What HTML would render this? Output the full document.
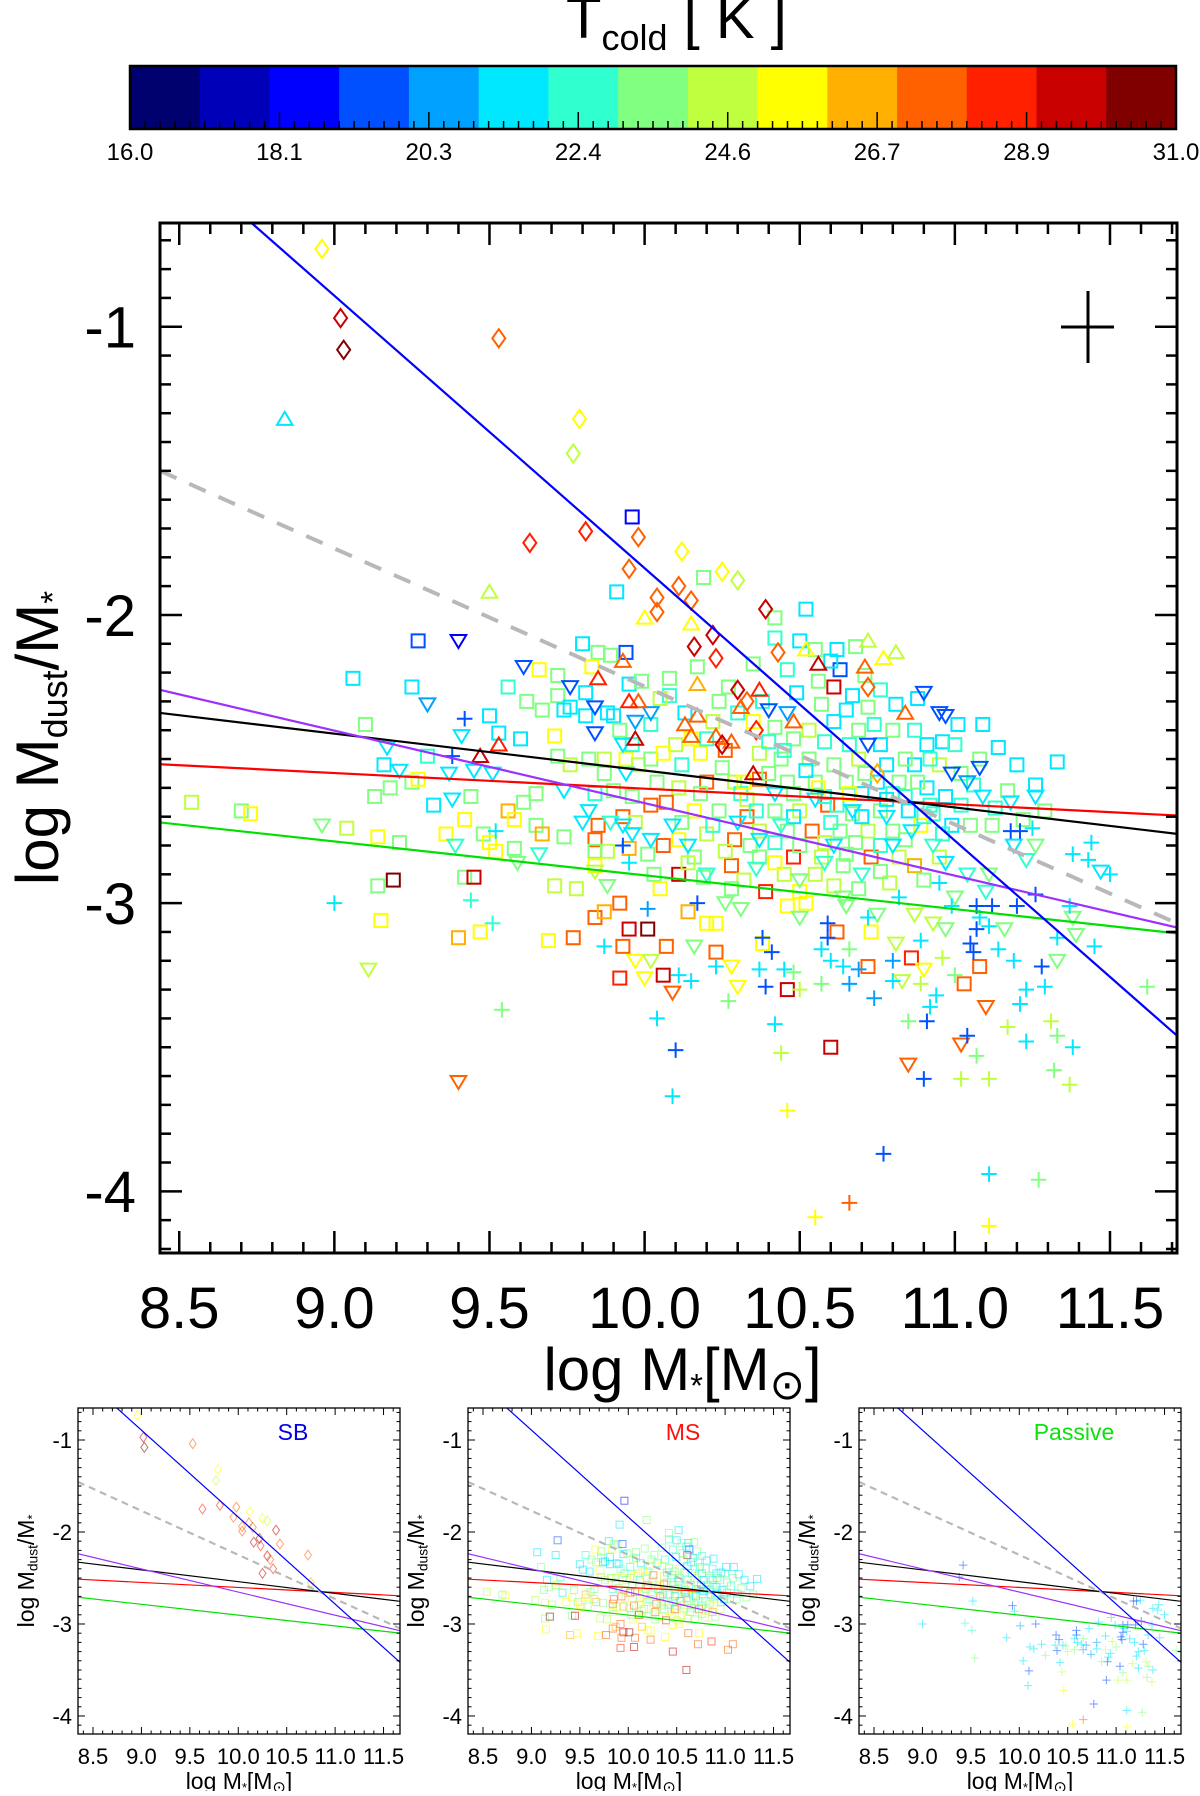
<!DOCTYPE html>
<html><head><meta charset="utf-8"><style>
html,body{margin:0;padding:0;background:#fff;}
svg text{font-family:"Liberation Sans","DejaVu Sans",sans-serif;fill:#000;}
</style></head><body>
<svg id="fig" xmlns="http://www.w3.org/2000/svg" width="1200" height="1791" viewBox="0 0 1200 1791">
<g id="cbar"></g>
<g id="main"></g>
<g id="p0"></g>
<g id="p1"></g>
<g id="p2"></g>
</svg>
<script>
// ---------- data ----------
const cmapColors = ["#00006e","#0000b8","#0000ff","#0050ff","#00a0ff","#00e8ff","#30ffd0","#80ff80","#c0ff40","#ffff00","#ffb000","#ff6000","#ff2000","#c80000","#800000"];
const cbarTicks = ["16.0","18.1","20.3","22.4","24.6","26.7","28.9","31.0"];
const xTicks = [8.5,9.0,9.5,10.0,10.5,11.0,11.5];
const yTicks = [-1,-2,-3,-4];
// fit lines: [slope, intercept at x=8.438]
const lineBlue = [-0.9454, -0.361];
const lineRed = [-0.0543, -2.518];
const lineBlack = [-0.128, -2.34];
const linePurple = [-0.2516, -2.26];
const lineGreen = [-0.1174, -2.72];
const lineGray = [-0.479, -1.50];
// markers [logM*, logMdust/M*, Tcold]
const sbDiamonds = [[8.96,-0.73,25.5],[9.02,-0.97,29.5],[9.03,-1.08,30.5],[9.53,-1.04,27.5],[9.79,-1.32,25],[9.77,-1.44,24],[9.63,-1.75,28],[9.81,-1.71,28],[9.98,-1.73,27.5],[10.12,-1.78,25.5],[9.95,-1.84,27],[10.04,-1.94,27.5],[10.04,-1.99,27],[10.25,-1.85,25.5],[10.30,-1.88,24.5],[10.11,-1.90,27],[10.15,-1.95,27],[10.39,-1.98,29.5],[10.22,-2.07,29.5],[10.16,-2.11,29],[10.23,-2.15,28],[10.43,-2.13,27],[10.30,-2.26,29],[10.33,-2.30,27],[10.36,-2.40,28],[10.25,-2.45,29],[10.72,-2.25,27],[10.75,-2.55,26.5]];
const msSquares = [[9.96,-1.66,18.5],[9.91,-1.92,21],[9.06,-2.22,21.5],[9.27,-2.09,19],[9.25,-2.25,21.5],[9.10,-2.38,23.5],[9.16,-2.52,21.5],[9.13,-2.63,23.5],[9.18,-2.60,23],[9.25,-2.58,23.5],[9.27,-2.57,25.5],[8.54,-2.65,24],[8.70,-2.68,23.5],[8.73,-2.69,25.5],[9.04,-2.74,24],[9.14,-2.77,25.5],[9.21,-2.79,23.5],[9.14,-2.94,23],[9.19,-2.92,30],[9.15,-3.06,25.5],[9.30,-2.49,22],[9.32,-2.66,21.5],[9.36,-2.76,25.5],[9.42,-2.71,25.5],[9.44,-2.63,23.5],[9.48,-2.76,23.5],[9.50,-2.79,25.5],[9.52,-2.82,25.5],[9.42,-2.91,23.5],[9.45,-2.91,29.5],[9.40,-3.12,26.5],[9.47,-3.10,25.5],[9.56,-2.25,22],[9.66,-2.19,25.5],[9.62,-2.30,23],[9.67,-2.33,23],[9.50,-2.35,21.5],[9.53,-2.41,21.5],[9.60,-2.43,21],[9.71,-2.42,25.5],[9.56,-2.68,26.5],[9.58,-2.71,25.5],[9.61,-2.65,23.5],[9.65,-2.62,23.5],[9.65,-2.73,23.5],[9.67,-2.76,26.5],[9.74,-2.77,23],[9.58,-2.81,23],[9.71,-2.94,24],[9.78,-2.95,24],[9.69,-3.13,25.5],[9.77,-3.12,27.5],[9.84,-3.05,27.5],[9.87,-3.03,26.5],[9.92,-3.00,27.5],[9.95,-3.09,29.5],[10.01,-3.09,31],[9.93,-3.15,27.5],[9.92,-3.26,28.5],[9.80,-2.10,21.5],[9.85,-2.13,23],[9.89,-2.14,23.5],[9.94,-2.13,19.5],[9.83,-2.18,25],[9.72,-2.21,23.5],[9.72,-2.28,23.5],[9.81,-2.27,21.5],[9.74,-2.33,21.5],[9.76,-2.32,21.5],[9.81,-2.35,21],[9.88,-2.34,21],[9.90,-2.35,21.5],[9.95,-2.24,21],[9.99,-2.23,23],[9.92,-2.40,23.5],[9.72,-2.49,23.5],[9.76,-2.52,24],[9.82,-2.50,23.5],[9.87,-2.50,24],[9.94,-2.50,25.5],[9.98,-2.52,24],[10.02,-2.50,23.5],[9.87,-2.55,23],[9.84,-2.62,22],[9.90,-2.61,23],[9.96,-2.63,23.5],[10.02,-2.66,27],[9.85,-2.73,27],[9.93,-2.70,27],[9.97,-2.72,24],[9.84,-2.78,27],[9.88,-2.82,24],[9.84,-2.82,23],[9.95,-2.81,26.5],[10.01,-2.83,23.5],[10.03,-2.90,23.5],[9.84,-2.87,25.5],[10.19,-1.87,23.5],[10.42,-2.01,23.5],[10.52,-1.98,21.5],[10.42,-2.08,22],[10.50,-2.09,21.5],[10.62,-2.12,21.5],[10.68,-2.11,23.5],[10.63,-2.19,19.5],[10.55,-2.12,23],[10.71,-2.21,23.5],[10.76,-2.26,22],[10.81,-2.31,21.5],[10.88,-2.29,21],[11.01,-2.38,21.5],[11.09,-2.38,21],[10.96,-2.44,21.5],[10.91,-2.45,21],[11.08,-2.50,23],[11.20,-2.52,21],[11.33,-2.51,21],[11.17,-2.61,23],[11.26,-2.59,21.5],[11.29,-2.68,23.5],[11.12,-2.73,23],[11.05,-2.73,23.5],[10.08,-2.22,23.5],[10.17,-2.18,23],[10.08,-2.28,22],[10.27,-2.25,23.5],[10.61,-2.25,29.5],[10.56,-2.23,23],[10.67,-2.28,21.5],[10.49,-2.27,21.5],[10.57,-2.31,23.5],[10.65,-2.33,21.5],[10.72,-2.32,23],[10.80,-2.40,23],[10.76,-2.45,21.5],[10.69,-2.40,23.5],[10.61,-2.37,21],[10.53,-2.40,24],[10.48,-2.43,23.5],[10.42,-2.39,23],[10.35,-2.37,25],[10.22,-2.37,24],[10.15,-2.43,25.5],[10.10,-2.45,24.5],[10.06,-2.48,25],[10.18,-2.48,25.5],[10.26,-2.47,27],[10.37,-2.48,24.5],[10.44,-2.50,23.5],[10.53,-2.50,23.5],[10.61,-2.52,23],[10.69,-2.50,24],[10.78,-2.52,21.5],[10.87,-2.52,21.5],[10.95,-2.52,24.5],[11.02,-2.55,23],[10.91,-2.60,21.5],[10.82,-2.58,23],[10.75,-2.58,21.5],[10.65,-2.58,23.5],[10.55,-2.58,23.5],[10.46,-2.58,23],[10.37,-2.57,27],[10.29,-2.58,24],[10.20,-2.58,27],[10.11,-2.60,24],[10.07,-2.65,27.5],[10.16,-2.68,25.5],[10.24,-2.68,23.5],[10.33,-2.70,27],[10.42,-2.68,23.5],[10.50,-2.68,24],[10.59,-2.66,27.5],[10.67,-2.69,23],[10.76,-2.68,23.5],[10.85,-2.68,21.5],[10.93,-2.69,22],[10.99,-2.73,21.5],[10.89,-2.73,25],[10.80,-2.75,23.5],[10.72,-2.75,24],[10.63,-2.75,23.5],[10.54,-2.75,27],[10.46,-2.75,23],[10.37,-2.75,24.5],[10.29,-2.78,27],[10.20,-2.76,24],[10.11,-2.78,25.5],[10.06,-2.80,27],[10.16,-2.84,23.5],[10.28,-2.87,27],[10.37,-2.84,23],[10.48,-2.84,28.5],[10.57,-2.84,24],[10.65,-2.83,23.5],[10.73,-2.84,27.5],[10.82,-2.84,24],[10.87,-2.87,26.5],[10.95,-2.84,24.5],[10.11,-2.90,29],[10.19,-2.91,23.5],[10.32,-2.92,24],[10.39,-2.96,28.5],[10.50,-2.96,25.5],[10.61,-2.94,24],[10.69,-2.95,23.5],[10.79,-2.93,24.5],[10.14,-3.03,26.5],[10.20,-3.07,25.5],[10.23,-3.07,25.5],[10.46,-3.01,25.5],[10.52,-3.00,25],[10.62,-3.10,27],[10.73,-3.10,25.5],[10.07,-3.15,27],[10.23,-3.17,27],[10.06,-3.25,29],[10.46,-3.30,29.5],[10.60,-3.50,29],[10.72,-3.22,27.5],[10.86,-3.19,28],[11.03,-3.28,27],[11.08,-3.22,27.5],[10.38,-3.14,25.5],[10.45,-2.47,22],[10.58,-2.63,22.5],[10.70,-2.62,21.5],[10.84,-2.63,22],[10.97,-2.63,21],[10.31,-2.62,22.5],[10.52,-2.54,21.5],[10.66,-2.45,22.5],[10.87,-2.40,22],
[10.40,-2.55,23],[10.48,-2.62,23.5],[10.62,-2.66,22],[10.71,-2.55,23.5],[10.80,-2.62,22.5],[10.88,-2.58,23],[10.92,-2.66,22],[10.96,-2.76,22.5],[11.02,-2.66,22],[10.84,-2.78,23.5],[10.76,-2.80,22.5],[10.68,-2.79,23],[10.58,-2.79,24],[10.50,-2.80,23.5],[10.42,-2.79,22.5],[10.34,-2.80,23.5],[10.26,-2.82,24],[10.33,-2.64,24],[10.25,-2.53,23],[10.40,-2.44,22.5],[10.58,-2.44,22],[10.74,-2.38,22.5],[10.92,-2.50,22.5],[11.06,-2.59,22],[11.13,-2.67,22.5],[11.22,-2.71,23],[10.64,-2.87,23.5],[10.55,-2.90,24.5],[10.76,-2.89,23],[10.90,-2.92,23.5],[10.45,-2.90,24],[10.28,-2.95,23],[10.12,-2.72,23.5],[10.18,-2.62,23],[10.04,-2.58,23],[10.12,-2.52,22.5],[10.20,-2.43,22],[10.30,-2.34,22.5],[10.38,-2.30,22],[10.46,-2.19,22],[10.35,-2.17,23],[10.24,-2.30,23],[10.13,-2.34,21.5],[10.02,-2.38,22],[10.05,-2.29,24],[9.96,-2.45,22],[10.60,-2.16,21.5],[10.84,-2.50,23],[11.00,-2.45,22],[11.14,-2.46,21.5],[10.70,-2.70,21.5],[10.60,-2.72,22],[10.78,-2.64,21],[10.90,-2.70,22.5],[10.48,-2.70,21.5],[10.36,-2.68,22],[10.22,-2.73,22.5],[10.14,-2.86,24.5],[10.05,-2.95,25],[10.42,-2.86,25.5],[10.56,-2.60,25],[10.66,-2.62,25.5],[10.32,-2.58,25.5]];
const triDown = [[9.40,-2.09,18.5],[9.30,-2.31,20],[9.61,-2.18,19],[9.76,-2.25,19.5],[9.84,-2.32,19],[9.84,-2.41,19.5],[9.97,-2.37,20],[10.02,-2.34,20],[9.17,-2.46,21.5],[9.21,-2.54,21.5],[9.37,-2.55,21.5],[9.45,-2.54,21.5],[9.51,-2.55,21.5],[9.41,-2.42,21.5],[9.38,-2.64,21.5],[9.39,-2.80,22],[8.96,-2.73,23.5],[9.11,-3.23,24],[9.40,-3.62,27.5],[9.59,-2.86,23],[9.66,-2.83,22.5],[9.74,-2.61,21.5],[9.80,-2.72,21.5],[9.82,-2.68,21],[9.89,-2.72,22],[9.93,-2.73,21.5],[9.96,-2.76,21],[9.94,-2.55,21.5],[9.88,-2.94,23.5],[9.84,-2.89,24],[9.97,-3.20,25.5],[10.02,-3.20,24.5],[10.00,-3.26,25.5],[9.93,-2.45,21.5],[10.02,-2.78,21],[10.90,-2.27,19.5],[10.95,-2.34,19.5],[10.97,-2.35,19],[11.08,-2.53,19],[11.04,-2.58,20],[10.99,-2.55,19.5],[11.09,-2.63,21.5],[11.18,-2.65,21.5],[11.26,-2.63,21.5],[11.47,-2.89,21],[11.38,-3.05,23.5],[11.39,-3.11,23.5],[11.33,-3.20,23],[11.16,-3.09,23.5],[11.26,-2.80,23],[11.23,-2.85,22],[11.19,-2.80,21.5],[10.46,-2.34,20],[10.40,-2.33,19.5],[10.72,-2.45,19.5],[10.67,-2.68,21],[10.09,-2.73,21.5],[10.14,-2.80,21.5],[10.37,-2.78,21.5],[10.61,-2.80,21.5],[10.80,-2.80,21.5],[10.97,-2.86,21.5],[11.04,-2.90,22],[11.11,-2.90,23],[10.26,-3.00,23.5],[10.31,-3.02,23],[10.50,-3.05,23],[10.65,-3.01,23.5],[10.75,-3.04,23],[10.87,-3.04,24],[10.93,-3.07,24.5],[10.97,-3.09,23.5],[10.81,-3.14,24],[10.16,-3.15,23.5],[10.28,-3.22,25.5],[10.30,-3.29,25.5],[10.09,-3.31,27],[10.90,-3.23,25.5],[10.83,-3.27,24.5],[11.10,-3.36,27],[11.02,-3.49,27],[10.85,-3.56,27],[10.55,-2.64,21.5],[10.78,-2.70,21.5],[10.44,-2.73,22],
[10.58,-2.86,22],[10.70,-2.90,22.5],[10.86,-2.75,21.5],[10.93,-2.80,22],[10.50,-2.92,23],[10.36,-2.88,22.5],[10.20,-2.90,22],[10.64,-2.98,23.5],[11.10,-2.96,22.5],[11.00,-2.98,23],[10.42,-2.62,21.5],[10.30,-2.72,21]];
const triUp = [[8.84,-1.32,21.5],[9.50,-1.92,24],[9.47,-2.49,29],[9.53,-2.45,28],[9.85,-2.22,28],[9.93,-2.16,27.5],[9.97,-2.43,29],[9.98,-2.30,27.5],[10.00,-2.01,25.5],[9.95,-2.30,28.5],[10.72,-2.09,24.5],[10.81,-2.13,24.5],[10.77,-2.15,25.5],[10.56,-2.17,29],[10.71,-2.18,27],[10.52,-2.12,25],[10.15,-2.03,25.5],[10.17,-2.24,26.5],[10.37,-2.26,28.5],[10.13,-2.38,27.5],[10.17,-2.35,27.5],[10.15,-2.42,27.5],[10.23,-2.42,27.5],[10.28,-2.44,27.5],[10.31,-2.32,27],[10.35,-2.55,29],[10.84,-2.34,27],[10.48,-2.37,27.5]];
const passivePlus = [[9.42,-2.36,19],[9.38,-2.49,19.5],[9.00,-3.00,21.5],[9.52,-2.75,21],[9.44,-2.99,22],[9.51,-3.07,22],[9.54,-3.37,23],[9.87,-3.15,21.5],[9.95,-2.86,21],[9.93,-2.80,19.5],[10.01,-3.02,20.5],[10.04,-3.40,21.5],[11.18,-2.75,19.5],[11.21,-2.75,19],[11.25,-2.74,21],[11.44,-2.79,21],[11.38,-2.83,21],[11.43,-2.85,21],[11.26,-2.97,19.5],[11.37,-3.01,21],[11.20,-3.01,19.5],[11.12,-3.01,19.5],[11.07,-3.01,19],[10.99,-3.01,21],[11.08,-3.05,21],[11.07,-3.09,19.5],[11.11,-3.08,21],[11.05,-3.14,19.5],[11.06,-3.17,19],[11.14,-3.16,21],[11.19,-3.20,21],[11.28,-3.22,19],[11.33,-3.12,21],[11.23,-3.30,21],[11.29,-3.29,21],[11.21,-3.35,21],[11.62,-3.29,23],[11.17,-3.43,24],[11.31,-3.41,24],[11.33,-3.46,23.5],[11.23,-3.48,21],[11.38,-3.50,21],[11.32,-3.58,23.5],[11.37,-3.63,24],[11.11,-3.61,24],[11.02,-3.61,24],[11.07,-3.53,23],[11.04,-3.46,19],[10.91,-3.41,19],[10.85,-3.41,23],[10.92,-3.36,21],[10.94,-3.32,21],[10.90,-3.61,19],[11.00,-3.25,23],[10.80,-3.27,21],[10.89,-3.28,24],[10.96,-3.19,24],[10.66,-3.28,20.5],[10.57,-3.28,23],[10.50,-3.30,24],[10.39,-3.29,19.5],[10.27,-3.34,23.5],[10.42,-3.42,21],[10.44,-3.52,24],[10.10,-3.51,19],[10.09,-3.67,21],[10.46,-3.72,25.5],[10.74,-3.33,20.5],[10.15,-3.27,21],[10.11,-3.25,21],[10.23,-3.22,21],[10.37,-3.23,21],[10.45,-3.23,21],[10.48,-3.24,23],[10.64,-3.22,21],[10.69,-3.23,20.5],[10.60,-3.20,21],[10.59,-3.12,19.5],[10.59,-3.07,19],[10.41,-3.17,19.5],[10.38,-3.12,19],[10.57,-3.16,21],[10.66,-3.16,23],[10.80,-3.20,20.5],[10.89,-3.13,21],[10.17,-3.00,19.5],[10.55,-4.09,25.5],[10.66,-4.04,27],[10.77,-3.87,19],[11.11,-3.94,21],[11.11,-4.12,25],[11.27,-3.96,23],[11.45,-3.15,21],[11.50,-2.90,21],[10.72,-3.05,21],[10.82,-2.98,21],[10.95,-2.93,21]];
const panelLabels = ["SB","MS","Passive"];
const panelLabelColors = ["#0000e0","#ff1010","#10e010"];

// ---------- helpers ----------
const NS = "http://www.w3.org/2000/svg";
function mk(tag, attrs, parent){const e=document.createElementNS(NS,tag);for(const k in attrs)e.setAttribute(k,attrs[k]);parent.appendChild(e);return e;}
function tcolor(t){let i=Math.floor(t-16);if(i<0)i=0;if(i>14)i=14;return cmapColors[i];}

// ---------- colorbar ----------
(function(){
  const g=document.getElementById('cbar');
  const x0=130,x1=1176,y0=66,y1=129,w=(x1-x0)/15;
  const tt=mk('text',{x:566,y:38,'font-size':58},g);
  
  
  tt.innerHTML='T<tspan font-size="36" dy="12">cold</tspan><tspan dy="-12"> [ K ]</tspan>';
  cmapColors.forEach((c,i)=>{
    const r=mk('rect',{x:x0+i*w,y:y0,width:w+0.5,height:y1-y0,fill:c},g);
    
    
  });
  const fr=mk('rect',{x:x0,y:y0,width:x1-x0,height:y1-y0,fill:'none',stroke:'#000','stroke-width':2.5},g);
  
  
  const n=cbarTicks.length-1;
  for(let k=0;k<=n*10;k++){
    const x=x0+(x1-x0)*k/(n*10);
    mk('line',{x1:x,x2:x,y1:y1,y2:y1-(k%10===0?17:8),stroke:'#000','stroke-width':1.5},g);
  }
  cbarTicks.forEach((t,i)=>{
    const e=mk('text',{x:x0+(x1-x0)*i/n,y:160,'font-size':24,'text-anchor':'middle'},g);
    
    
    e.textContent=t;
  });
})();

// ---------- plot drawing ----------
function drawMarker(g,shape,cx,cy,s,color,sw,op){
  let e;
  if(shape==='sq') e=mk('rect',{x:cx-s/2,y:cy-s/2,width:s,height:s},g);
  else if(shape==='dia') e=mk('polygon',{points:`${cx},${cy-s*0.7} ${cx+s*0.5},${cy} ${cx},${cy+s*0.7} ${cx-s*0.5},${cy}`},g);
  else if(shape==='up') e=mk('polygon',{points:`${cx},${cy-s*0.55} ${cx+s*0.6},${cy+s*0.45} ${cx-s*0.6},${cy+s*0.45}`},g);
  else if(shape==='down') e=mk('polygon',{points:`${cx},${cy+s*0.55} ${cx+s*0.6},${cy-s*0.45} ${cx-s*0.6},${cy-s*0.45}`},g);
  else e=mk('path',{d:`M${cx-s*0.6},${cy}H${cx+s*0.6}M${cx},${cy-s*0.6}V${cy+s*0.6}`},g);
  e.setAttribute('fill','none');e.setAttribute('stroke',color);e.setAttribute('stroke-width',sw);
  if(op<1)e.setAttribute('stroke-opacity',op);
  return e;
}

function drawPlot(g,o){
  const xs=x=>o.L+(x-o.xmin)/(o.xmax-o.xmin)*(o.R-o.L);
  const ys=y=>o.T+(o.ymax-y)/(o.ymax-o.ymin)*(o.B-o.T);
  const cid='clip'+g.id;
  const cp=mk('clipPath',{id:cid},g);mk('rect',{x:o.L,y:o.T,width:o.R-o.L,height:o.B-o.T},cp);
  const pg=mk('g',{'clip-path':`url(#${cid})`},g);
  const sets=o.sets;
  sets.forEach(([shape,arr,nm])=>{
    arr.forEach(p=>{
      const m=drawMarker(pg,shape,xs(p[0]),ys(p[1]),o.ms,tcolor(p[2]),o.msw,o.op);
      
      
    });
  });
  const lines=[[lineRed,'#ff0000','red-fit-line',''],[lineBlack,'#000000','black-fit-line',''],[linePurple,'#9b30ff','purple-fit-line',''],[lineGreen,'#00e000','green-fit-line',''],[lineGray,'#b8b8b8','gray-dashed-fit-line',o.dash],[lineBlue,'#0000ff','blue-fit-line','']];
  lines.forEach(([ln,c,nm,da])=>{
    const xa=o.xmin,xb=o.xmax;
    const f=x=>ln[1]+ln[0]*(x-8.438);
    const e=mk('line',{x1:xs(xa),y1:ys(f(xa)),x2:xs(xb),y2:ys(f(xb)),stroke:c,'stroke-width':nm.startsWith('gray')?o.lw*1.8:o.lw},pg);
    if(da)e.setAttribute('stroke-dasharray',da);
    
    
  });
  const fr=mk('rect',{x:o.L,y:o.T,width:o.R-o.L,height:o.B-o.T,fill:'none',stroke:'#000','stroke-width':o.fw},g);
  
  
  for(let k=Math.ceil(o.xmin*10);k<=Math.floor(o.xmax*10);k++){
    const x=xs(k/10),maj=(k%5===0),len=maj?o.tmaj:o.tmin;
    mk('line',{x1:x,x2:x,y1:o.B,y2:o.B-len,stroke:'#000','stroke-width':o.tw},g);
    mk('line',{x1:x,x2:x,y1:o.T,y2:o.T+len,stroke:'#000','stroke-width':o.tw},g);
  }
  for(let k=Math.ceil(o.ymin*10);k<=Math.floor(o.ymax*10);k++){
    const y=ys(k/10),maj=(k%10===0),len=maj?o.tmaj:o.tmin;
    mk('line',{x1:o.L,x2:o.L+len,y1:y,y2:y,stroke:'#000','stroke-width':o.tw},g);
    mk('line',{x1:o.R,x2:o.R-len,y1:y,y2:y,stroke:'#000','stroke-width':o.tw},g);
  }
  xTicks.forEach(v=>{
    const e=mk('text',{x:xs(v),y:o.xly,'font-size':o.fs,'text-anchor':'middle'},g);
    
    
    e.textContent=v.toFixed(1);
  });
  yTicks.forEach(v=>{
    const e=mk('text',{x:o.yla,y:ys(v)+o.fs*0.36,'font-size':o.fs,'text-anchor':'end'},g);
    
    
    e.textContent=String(v);
  });
  const xt=mk('text',{x:(o.L+o.R)/2+o.xtdx,y:o.xty,'font-size':o.tfs,'text-anchor':'middle'},g);
  
  
  const s=o.tfs;
  xt.innerHTML=`log M<tspan font-size="${s*0.55}" dy="${s*0.12}">*</tspan><tspan dy="${-s*0.12}">[M</tspan><tspan font-size="${s*0.7}" dy="${s*0.15}">⊙</tspan><tspan dy="${-s*0.15}">]</tspan>`;
  const yt=mk('text',{x:0,y:0,'font-size':o.tfs,'text-anchor':'middle',transform:`translate(${o.ytx},${(o.T+o.B)/2}) rotate(-90)`},g);
  
  
  yt.innerHTML=`log M<tspan font-size="${s*0.6}" dy="${s*0.15}">dust</tspan><tspan dy="${-s*0.15}">/M</tspan><tspan font-size="${s*0.55}" dy="${s*0.1}">*</tspan>`;
  return {xs,ys};
}

// main plot
(function(){
  const g=document.getElementById('main');
  drawPlot(g,{L:160,R:1177,T:223,B:1253,xmin:8.438,xmax:11.716,ymin:-4.214,ymax:-0.64,
    sets:[['sq',msSquares,'ms-square-marker'],['down',triDown,'triangle-down-marker'],['up',triUp,'triangle-up-marker'],['plus',passivePlus,'passive-plus-marker'],['dia',sbDiamonds,'sb-diamond-marker']],
    ms:13,msw:2,op:1,lw:2.2,dash:'18 14',fw:3,tw:2.5,tmaj:22,tmin:11,fs:58,xly:1328,yla:136,tfs:60,xty:1390,xtdx:14,ytx:58});
  const c=mk('path',{d:'M1061,327H1114M1088,291V363',stroke:'#000','stroke-width':3,fill:'none'},g);
  
  
})();

// small panels
const panelSets=[[['dia',sbDiamonds,'sb-diamond-marker']],[['sq',msSquares,'ms-square-marker']],[['plus',passivePlus,'passive-plus-marker']]];
[78,468,859].forEach((L,i)=>{
  const g=document.getElementById('p'+i);
  const o={L:L,R:L+322,T:1408,B:1734,xmin:8.345,xmax:11.67,ymin:-4.196,ymax:-0.652,
    sets:panelSets[i],ms:7,msw:1,op:0.55,lw:1.2,dash:'7 5',fw:1.3,tw:1,tmaj:7,tmin:3.5,fs:22,xly:1764,yla:L-6,tfs:23,xty:1789,xtdx:0,ytx:L-44};
  drawPlot(g,o);
  const lb=mk('text',{x:L+215,y:1440,'font-size':23,'text-anchor':'middle',fill:panelLabelColors[i]},g);
  
  
  lb.setAttribute('style','fill:'+panelLabelColors[i]);
  lb.textContent=panelLabels[i];
});
</script>
</body></html>
